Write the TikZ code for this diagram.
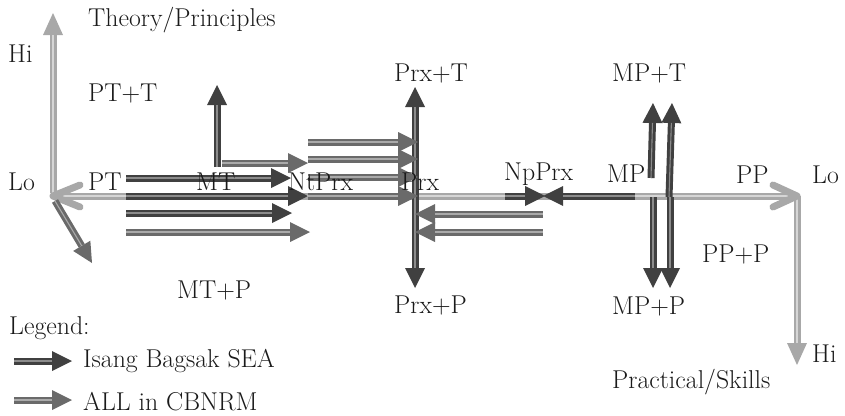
\documentclass[tikz,border=0pt]{standalone}
\usetikzlibrary{arrows.meta}
\definecolor{dk}{HTML}{404040}
\definecolor{dkS}{HTML}{8C8C8C}
\definecolor{md}{HTML}{6A6A6A}
\definecolor{mdS}{HTML}{AAAAAA}
\definecolor{lt}{HTML}{A8A8A8}
\definecolor{ltS}{HTML}{D6D6D6}
\definecolor{tx}{HTML}{1A1A1A}
\begin{document}
\begin{tikzpicture}[x=1pt,y=-1pt,
  lbl/.style={anchor=base west, inner sep=0pt, font=\fontsize{25.8}{30}\selectfont, text=tx},
  darr/.style={draw=dk, line width=7pt, -{Triangle[length=20pt,width=20pt,line width=0pt]},
    postaction={draw=dkS, line width=1.1pt, shorten >=20pt, -}},
  marr/.style={draw=md, line width=7pt, -{Triangle[length=20pt,width=20pt,line width=0pt]},
    postaction={draw=mdS, line width=1.1pt, shorten >=20pt, -}},
  axline/.style={draw=lt, line width=7pt, postaction={draw=ltS, line width=1.3pt}},
  axarr/.style={draw=lt, line width=7pt, -{Triangle[length=22pt,width=20pt,line width=0pt]},
    postaction={draw=ltS, line width=1.3pt, shorten >=22pt, -}},
  chev/.style={draw=lt, line width=7pt, line cap=round, line join=round},
]
\useasboundingbox (0,0) rectangle (845,415);

% ---------- axes ----------
\coordinate (axL) at (53,196);
\coordinate (axR) at (797,196);
\coordinate (axTop) at (53,13);
\coordinate (axLb) at (53,193);
\coordinate (axBot) at (797,365);
\coordinate (chLa) at (80,185);
\coordinate (chLb) at (80,207);
\coordinate (chRa) at (773,185);
\coordinate (chRb) at (773,207);
\path[axarr] (axLb) -- (axTop);
\path[axline] (axL) -- (axR);
\path[axarr] (axR) -- (axBot);
\path[chev] (chLa) -- (axL) -- (chLb);
\path[chev] (chRa) -- (axR) -- (chRb);

% ---------- dark (Isang Bagsak SEA) ----------
\coordinate (d1a) at (126,178); \coordinate (d1b) at (291,178);
\coordinate (d2a) at (217,167); \coordinate (d2b) at (217,85);
\coordinate (d3a) at (126,196); \coordinate (d3b) at (308,196);
\coordinate (d4a) at (126,213); \coordinate (d4b) at (292,213);
\coordinate (d5a) at (415,196); \coordinate (d5b) at (415,87);
\coordinate (d6a) at (415,196); \coordinate (d6b) at (415,288);
\coordinate (d7a) at (505,196); \coordinate (d7b) at (545,196);
\coordinate (d8a) at (635,196); \coordinate (d8b) at (543,196);
\coordinate (d9a) at (651,178); \coordinate (d9b) at (653,103);
\coordinate (d10a) at (669,197); \coordinate (d10b) at (672,103);
\coordinate (d11a) at (653,197); \coordinate (d11b) at (653,288);
\coordinate (d12a) at (670,197); \coordinate (d12b) at (670,288);

\path[darr] (d5a) -- (d5b);
\path[darr] (d6a) -- (d6b);
\path[darr] (d2a) -- (d2b);

% ---------- medium (ALL in CBNRM) ----------
\coordinate (m1a) at (222,163); \coordinate (m1b) at (308,163);
\coordinate (m2a) at (126,232); \coordinate (m2b) at (310,232);
\coordinate (m3a) at (308,142); \coordinate (m3b) at (418,142);
\coordinate (m4a) at (308,159); \coordinate (m4b) at (418,159);
\coordinate (m5a) at (308,177); \coordinate (m5b) at (418,177);
\coordinate (m6a) at (308,196); \coordinate (m6b) at (418,196);
\coordinate (m7a) at (543,214); \coordinate (m7b) at (415,214);
\coordinate (m8a) at (543,232); \coordinate (m8b) at (415,232);
\coordinate (m9a) at (55,201); \coordinate (m9b) at (92,263);

\path[marr] (m1a) -- (m1b);
\path[marr] (m2a) -- (m2b);
\path[marr] (m3a) -- (m3b);
\path[marr] (m4a) -- (m4b);
\path[marr] (m5a) -- (m5b);
\path[marr] (m6a) -- (m6b);
\path[marr] (m7a) -- (m7b);
\path[marr] (m8a) -- (m8b);
\path[marr] (m9a) -- (m9b);

\path[darr] (d1a) -- (d1b);
\path[darr] (d3a) -- (d3b);
\path[darr] (d4a) -- (d4b);
\path[darr] (d7a) -- (d7b);
\path[darr] (d8a) -- (d8b);
\path[darr] (d9a) -- (d9b);
\path[darr] (d10a) -- (d10b);
\path[darr] (d11a) -- (d11b);
\path[darr] (d12a) -- (d12b);

% ---------- labels ----------
\node[lbl] (theory) at (88,27) {Theory/Principles};
\node[lbl] (hiL) at (8,62) {Hi};
\node[lbl] (ptt) at (88,101) {PT+T};
\node[lbl] (loL) at (8,190) {Lo};
\node[lbl] (pt) at (88,190) {PT};
\node[lbl] (mt) at (196,190) {MT};
\node[lbl] (ntprx) at (288,190) {NtPrx};
\node[lbl] (prx) at (401,190) {Prx};
\node[lbl] (npprx) at (504,180) {NpPrx};
\node[lbl] (mp) at (607,182) {MP};
\node[lbl] (pp) at (736,183) {PP};
\node[lbl] (loR) at (812,183) {Lo};
\node[lbl] (prxt) at (394,81) {Prx+T};
\node[lbl] (mpt) at (612,81) {MP+T};
\node[lbl] (ppp) at (702,262) {PP+P};
\node[lbl] (prxp) at (394,313) {Prx+P};
\node[lbl] (mpp) at (612,314) {MP+P};
\node[lbl] (mtp) at (177,298) {MT+P};
\node[lbl] (hiR) at (812,362) {Hi};
\node[lbl] (practical) at (612,388) {Practical/Skills};

% ---------- legend ----------
\node[lbl] (legend) at (9,334) {Legend:};
\node[lbl] (legD) at (83,367) {Isang Bagsak SEA};
\node[lbl] (legM) at (83,410) {ALL in CBNRM};
\coordinate (ldA) at (14,361); \coordinate (ldB) at (72,361);
\coordinate (lmA) at (14,400); \coordinate (lmB) at (72,400);
\path[darr] (ldA) -- (ldB);
\path[marr] (lmA) -- (lmB);
\end{tikzpicture}
\end{document}
